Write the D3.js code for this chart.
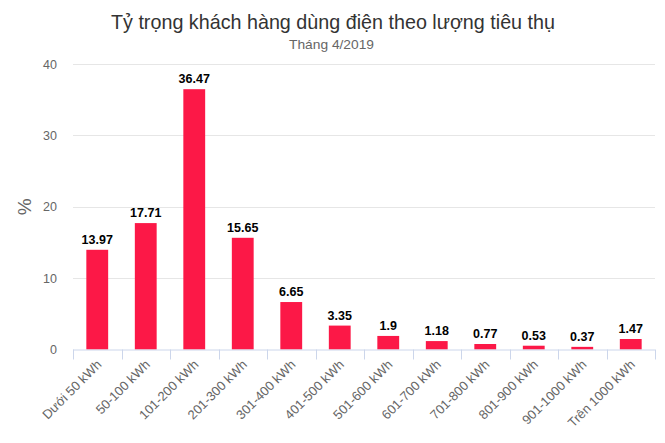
<!DOCTYPE html>
<html><head><meta charset="utf-8">
<script src="https://cdn.jsdelivr.net/npm/d3@7"></script>
<style>body{margin:0;background:#fff;}svg{font-family:"Liberation Sans",Arial,sans-serif;}</style>
</head><body>
<svg id="c" width="665" height="443"></svg>
<script>
const categories = ["Dưới 50 kWh","50-100 kWh","101-200 kWh","201-300 kWh","301-400 kWh","401-500 kWh","501-600 kWh","601-700 kWh","701-800 kWh","801-900 kWh","901-1000 kWh","Trên 1000 kWh"];
const values = [13.97,17.71,36.47,15.65,6.65,3.35,1.9,1.18,0.77,0.53,0.37,1.47];
const labels = ["13.97","17.71","36.47","15.65","6.65","3.35","1.9","1.18","0.77","0.53","0.37","1.47"];
const yTicks = [0,10,20,30,40];
const title = "Tỷ trọng khách hàng dùng điện theo lượng tiêu thụ";
const subtitle = "Tháng 4/2019";

(function(){
const svg = d3.select("#c");
const pl = 73, pr = 655, pt = 64, pb = 349.5;
const x = d3.scaleBand().domain(categories).range([pl, pr]).paddingInner(0.55).paddingOuter(0.275);
const y = d3.scaleLinear().domain([0, 40]).range([pb, pt]);

svg.append("text").attr("x", 333).attr("y", 28.5).attr("text-anchor","middle")
  .attr("font-size", 21).attr("fill", "#333")
  .attr("textLength", 444).attr("lengthAdjust", "spacingAndGlyphs").text(title);
svg.append("text").attr("x", 331.5).attr("y", 49).attr("text-anchor","middle")
  .attr("font-size", 13).attr("fill", "#666")
  .attr("textLength", 85).attr("lengthAdjust", "spacingAndGlyphs").text(subtitle);

svg.append("g").selectAll("line").data(yTicks.filter(d=>d>0)).join("line")
  .attr("x1", pl).attr("x2", pr).attr("y1", d=>Math.round(y(d))+0.5).attr("y2", d=>Math.round(y(d))+0.5)
  .attr("stroke", "#e6e6e6");

svg.append("g").selectAll("text").data(yTicks).join("text")
  .attr("x", 57).attr("y", d=>y(d)+4.5).attr("text-anchor","end")
  .attr("font-size", 12.5).attr("fill", "#666").text(d=>d);

svg.append("text").attr("transform", `translate(31,${(pt+pb)/2}) rotate(-90)`)
  .attr("text-anchor","middle").attr("font-size", 19).attr("fill","#666").text("%");

svg.append("g").selectAll("rect").data(values).join("rect")
  .attr("x", (d,i)=>x(categories[i])).attr("width", x.bandwidth())
  .attr("y", d=>y(d)).attr("height", d=>pb - y(d))
  .attr("fill", "#fc1847");

svg.append("g").selectAll("text").data(values).join("text")
  .attr("x", (d,i)=>x(categories[i]) + x.bandwidth()/2).attr("y", d=>y(d)-6)
  .attr("text-anchor","middle").attr("font-size", 12.5).attr("font-weight","bold").attr("fill","#000")
  .text((d,i)=>labels[i]);

svg.append("line").attr("x1", pl).attr("x2", pr).attr("y1", pb+0.5).attr("y2", pb+0.5).attr("stroke","#ccd6eb");
const step = x.step();
const tickPos = d3.range(categories.length+1).map(i => pl + i*step);
svg.append("g").selectAll("line").data(tickPos).join("line")
  .attr("x1", d=>Math.round(d)+0.5).attr("x2", d=>Math.round(d)+0.5)
  .attr("y1", pb).attr("y2", pb+10).attr("stroke","#ccd6eb");

svg.append("g").selectAll("text").data(categories).join("text")
  .attr("transform", d => `translate(${x(d)+x.bandwidth()/2+5},${pb+16}) rotate(-45)`)
  .attr("text-anchor","end").attr("font-size", 13).attr("fill","#666").text(d=>d);
})();
</script>
</body></html>
